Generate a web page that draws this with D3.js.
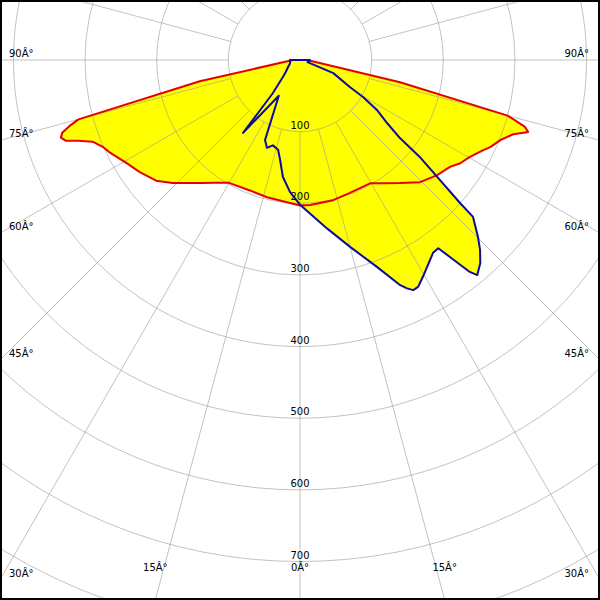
<!DOCTYPE html>
<html>
<head>
<meta charset="utf-8">
<script src="https://cdn.jsdelivr.net/npm/d3@7"></script>
<style>
  html, body { margin: 0; padding: 0; background: #fff; }
  svg { display: block; }
</style>
</head>
<body>
<script>
// ---- data ----
// angle in degrees from nadir (0 = straight down), negative = left side
const redAngles = [-90, -78, -75, -74, -73, -72, -71, -70, -68.5, -66, -64, -59, -55, -50, -46, -39, -35, -30, -21, -13.5, -4, 0,
  4, 13.3, 20.6, 29.6, 35, 39, 44.5, 50, 54.5, 57.2, 60.3, 63.8, 65.4, 68.2, 70.8, 72.5, 73.5, 75, 77.5, 90];
const redValues = [10, 143, 320, 335, 347, 351, 346, 330, 311, 300, 295, 281, 273, 262, 247, 221, 209, 198, 195, 197, 200, 203,
  203, 201, 198, 198, 210, 221, 239, 250, 257, 266, 273, 285, 292, 301, 315, 334, 327, 300, 143, 10];

const blueAngles = [-90, -80, -70, -60, -50, -45, -39.3, -38, -30.7, -23.6, -20.6, -17.6, -13.7, -11.3, -8.3, -4.3, 0,
  9.1, 15, 20.4, 24, 25.1, 26.2, 27.5, 29.5, 34.6, 36.3, 37.3, 38.7, 39.5, 41.6, 43.5, 45.2, 47.8, 48.2, 49.4, 51, 52, 54.1,
  57, 59.6, 61.6, 68.5, 74, 82, 90];
const blueValues = [14, 14, 15, 19, 26, 34, 60, 129, 58, 122, 131, 125, 129, 142, 165, 185, 202,
  238, 270, 308, 344, 352, 358, 357, 348, 327, 326, 346, 379, 389, 379, 365, 350, 326, 300, 257, 215, 177, 150,
  128, 102, 79, 50, 11, 12, 14];

const ringValues = [100, 200, 300, 400, 500, 600, 700, 800, 900];
const ringLabels = ["100", "200", "300", "400", "500", "600", "700"];
const sideAngleLabels = [90, 75, 60, 45, 30];
const bottomAngleLabels = [-15, 0, 15];
const spokeAngles = d3.range(0, 360, 15);

// ---- layout ----
const W = 600, H = 600, cx = 300, cy = 60;
const r = d3.scaleLinear().domain([0, 100]).range([0, 71.65]);
const rad = d => d * Math.PI / 180;

const svg = d3.select("body").append("svg").attr("width", W).attr("height", H);
svg.append("rect").attr("width", W).attr("height", H).attr("fill", "#fff");

svg.append("clipPath").attr("id", "clip")
  .append("rect").attr("x", 0).attr("y", 0).attr("width", W).attr("height", H);

const g = svg.append("g").attr("clip-path", "url(#clip)")
  .append("g").attr("transform", `translate(${cx},${cy})`);

const radial = d3.lineRadial()
  .angle(d => Math.PI - rad(d[0]))
  .radius(d => r(d[1]));

const redPts = redAngles.map((a, i) => [a, redValues[i]]);
const bluePts = blueAngles.map((a, i) => [a, blueValues[i]]);

// fills
g.append("path").attr("d", radial(redPts) + "Z").attr("fill", "#ffff00");
g.append("path").attr("d", radial(bluePts) + "Z").attr("fill", "#ffff00");

// grid
const grid = g.append("g").attr("stroke", "#9a9a9a").attr("stroke-opacity", 0.6).attr("fill", "none").attr("stroke-width", 1);
grid.selectAll("circle").data(ringValues).join("circle").attr("r", d => r(d));
grid.selectAll("line").data(spokeAngles).join("line")
  .attr("x1", d => r(100) * Math.sin(rad(d)))
  .attr("y1", d => r(100) * Math.cos(rad(d)))
  .attr("x2", d => r(1000) * Math.sin(rad(d)))
  .attr("y2", d => r(1000) * Math.cos(rad(d)));

// curves
g.append("path").attr("d", radial(redPts)).attr("fill", "none")
  .attr("stroke", "#e80000").attr("stroke-width", 2).attr("stroke-linejoin", "round");
g.append("path").attr("d", radial(bluePts) + "Z").attr("fill", "none")
  .attr("stroke", "#0c0ca0").attr("stroke-width", 2).attr("stroke-linejoin", "round");

// labels
const font = "DejaVu Sans";
const txt = svg.append("g").attr("font-family", font).attr("font-size", 10).attr("fill", "#000");

txt.selectAll("text.ring").data(ringLabels).join("text").attr("class", "ring")
  .attr("x", cx).attr("y", d => cy + r(+d) - 3).attr("text-anchor", "middle").text(d => d);

sideAngleLabels.forEach(a => {
  const y = cy + cx * Math.cos(rad(a)) / Math.sin(rad(a)) - 3;
  txt.append("text").attr("x", 9).attr("y", y).attr("text-anchor", "start").text(`${a}Â°`);
  txt.append("text").attr("x", 589).attr("y", y).attr("text-anchor", "end").text(`${a}Â°`);
});
bottomAngleLabels.forEach(a => {
  const x = cx + (H - cy) * Math.tan(rad(a));
  txt.append("text").attr("x", x).attr("y", 571).attr("text-anchor", "middle").text(`${Math.abs(a)}Â°`);
});

// frame
svg.append("rect").attr("x", 1).attr("y", 1).attr("width", W - 2).attr("height", H - 2)
  .attr("fill", "none").attr("stroke", "#000").attr("stroke-width", 2);
</script>
</body>
</html>
